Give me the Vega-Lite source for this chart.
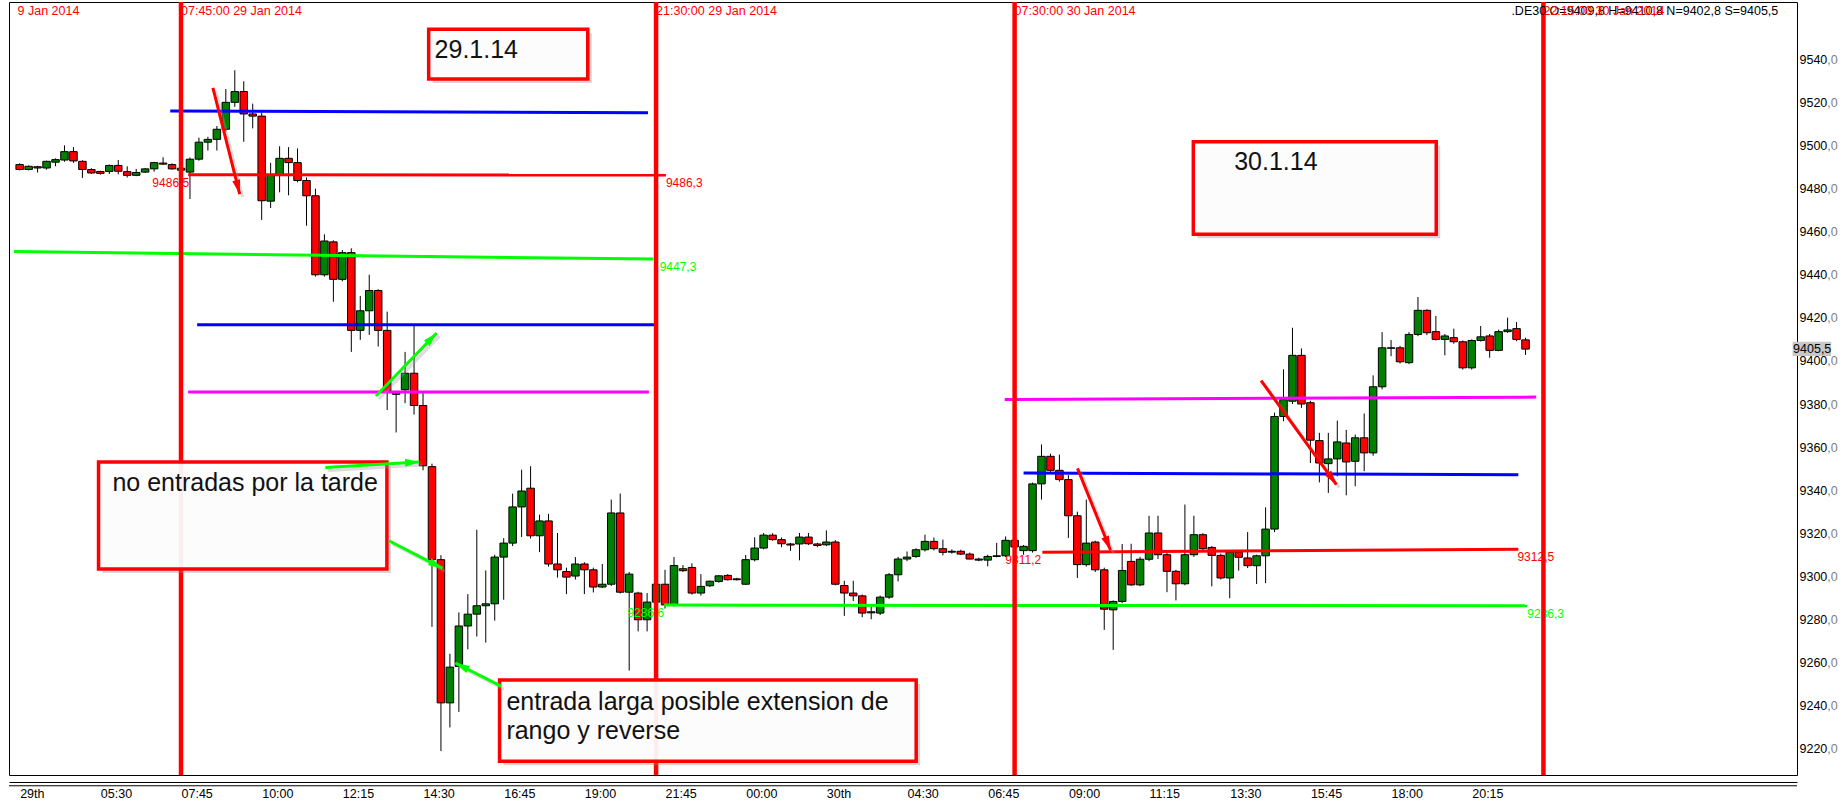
{
  "$schema": "https://vega.github.io/schema/vega-lite/v6.json",
  "width": 1788,
  "height": 773,
  "autosize": {"type": "none"},
  "padding": {"left": 9, "top": 2, "right": 45, "bottom": 28},
  "background": "white",
  "config": {
    "view": {"stroke": "black", "strokeWidth": 1},
    "font": "Liberation Sans",
    "axis": {"grid": false}
  },
  "resolve": {"axis": {"x": "independent", "y": "independent"}},
  "datasets": {
    "velas": [
      {"i":0,"o":9491.2,"h":9491.8,"l":9488.5,"c":9488.9},
      {"i":1,"o":9488.9,"h":9490.8,"l":9488.5,"c":9490.4},
      {"i":2,"o":9490.2,"h":9490.6,"l":9487.5,"c":9489.6},
      {"i":3,"o":9489.6,"h":9493.0,"l":9488.8,"c":9492.7},
      {"i":4,"o":9492.3,"h":9494.1,"l":9490.4,"c":9493.5},
      {"i":5,"o":9493.3,"h":9500.1,"l":9492.5,"c":9497.2},
      {"i":6,"o":9497.2,"h":9499.3,"l":9492.0,"c":9492.9},
      {"i":7,"o":9492.7,"h":9493.2,"l":9485.0,"c":9488.9},
      {"i":8,"o":9488.9,"h":9489.5,"l":9486.9,"c":9487.3},
      {"i":9,"o":9488.0,"h":9488.3,"l":9486.5,"c":9487.1},
      {"i":10,"o":9488.0,"h":9491.2,"l":9486.8,"c":9490.8},
      {"i":11,"o":9490.8,"h":9493.3,"l":9486.7,"c":9488.1},
      {"i":12,"o":9487.9,"h":9490.4,"l":9485.2,"c":9486.2},
      {"i":13,"o":9486.2,"h":9489.2,"l":9485.8,"c":9487.5},
      {"i":14,"o":9487.7,"h":9489.6,"l":9487.3,"c":9489.2},
      {"i":15,"o":9489.2,"h":9492.5,"l":9487.9,"c":9492.1},
      {"i":16,"o":9491.4,"h":9494.6,"l":9491.0,"c":9491.9},
      {"i":17,"o":9491.2,"h":9491.8,"l":9488.8,"c":9489.2},
      {"i":18,"o":9488.6,"h":9490.5,"l":9487.0,"c":9489.5},
      {"i":19,"o":9487.7,"h":9494.5,"l":9475.2,"c":9493.7},
      {"i":20,"o":9493.7,"h":9503.7,"l":9493.0,"c":9501.6},
      {"i":21,"o":9501.6,"h":9504.1,"l":9497.7,"c":9502.9},
      {"i":22,"o":9502.9,"h":9509.1,"l":9497.7,"c":9507.6},
      {"i":23,"o":9507.6,"h":9526.3,"l":9506.5,"c":9520.1},
      {"i":24,"o":9520.1,"h":9535.0,"l":9518.0,"c":9525.1},
      {"i":25,"o":9525.1,"h":9529.9,"l":9501.8,"c":9514.7},
      {"i":26,"o":9514.7,"h":9519.5,"l":9508.0,"c":9513.7},
      {"i":27,"o":9513.7,"h":9515.3,"l":9465.5,"c":9474.4},
      {"i":28,"o":9474.2,"h":9492.0,"l":9471.0,"c":9486.2},
      {"i":29,"o":9486.2,"h":9499.7,"l":9478.3,"c":9494.1},
      {"i":30,"o":9494.1,"h":9499.3,"l":9476.9,"c":9492.1},
      {"i":31,"o":9492.1,"h":9498.7,"l":9483.0,"c":9483.8},
      {"i":32,"o":9483.8,"h":9485.2,"l":9462.8,"c":9476.7},
      {"i":33,"o":9476.7,"h":9480.0,"l":9439.2,"c":9440.0},
      {"i":34,"o":9440.0,"h":9458.8,"l":9439.2,"c":9455.7},
      {"i":35,"o":9455.3,"h":9456.0,"l":9427.5,"c":9437.9},
      {"i":36,"o":9437.9,"h":9451.5,"l":9437.0,"c":9450.3},
      {"i":37,"o":9450.3,"h":9452.3,"l":9404.2,"c":9414.2},
      {"i":38,"o":9414.2,"h":9430.2,"l":9409.8,"c":9423.3},
      {"i":39,"o":9423.3,"h":9440.0,"l":9412.1,"c":9432.7},
      {"i":40,"o":9432.7,"h":9433.3,"l":9406.7,"c":9414.2},
      {"i":41,"o":9414.2,"h":9422.9,"l":9377.2,"c":9385.5},
      {"i":42,"o":9384.5,"h":9386.0,"l":9366.8,"c":9385.5},
      {"i":43,"o":9386.6,"h":9404.2,"l":9380.4,"c":9394.3},
      {"i":44,"o":9394.3,"h":9416.3,"l":9375.1,"c":9379.3},
      {"i":45,"o":9379.3,"h":9386.0,"l":9349.2,"c":9351.3},
      {"i":46,"o":9350.9,"h":9352.3,"l":9276.5,"c":9307.7},
      {"i":47,"o":9307.7,"h":9309.8,"l":9218.8,"c":9241.2},
      {"i":48,"o":9241.2,"h":9264.0,"l":9229.8,"c":9257.8},
      {"i":49,"o":9258.1,"h":9283.2,"l":9237.0,"c":9276.9},
      {"i":50,"o":9276.9,"h":9291.7,"l":9266.1,"c":9282.4},
      {"i":51,"o":9282.4,"h":9321.6,"l":9272.0,"c":9286.3},
      {"i":52,"o":9286.3,"h":9302.7,"l":9269.2,"c":9287.2},
      {"i":53,"o":9287.2,"h":9310.0,"l":9279.4,"c":9308.9},
      {"i":54,"o":9308.9,"h":9317.7,"l":9289.1,"c":9315.4},
      {"i":55,"o":9315.4,"h":9338.4,"l":9314.0,"c":9332.2},
      {"i":56,"o":9332.2,"h":9349.5,"l":9318.2,"c":9339.6},
      {"i":57,"o":9340.9,"h":9351.1,"l":9317.5,"c":9318.8},
      {"i":58,"o":9318.8,"h":9328.6,"l":9311.2,"c":9325.7},
      {"i":59,"o":9325.7,"h":9329.0,"l":9304.5,"c":9305.7},
      {"i":60,"o":9305.7,"h":9320.1,"l":9299.4,"c":9303.0},
      {"i":61,"o":9302.2,"h":9304.0,"l":9291.7,"c":9299.6},
      {"i":62,"o":9300.1,"h":9308.9,"l":9298.5,"c":9305.7},
      {"i":63,"o":9305.7,"h":9306.5,"l":9291.7,"c":9303.0},
      {"i":64,"o":9303.0,"h":9304.0,"l":9292.5,"c":9295.0},
      {"i":65,"o":9295.0,"h":9305.7,"l":9294.5,"c":9296.3},
      {"i":66,"o":9296.3,"h":9335.6,"l":9295.5,"c":9329.4},
      {"i":67,"o":9329.4,"h":9338.4,"l":9292.0,"c":9292.6},
      {"i":68,"o":9292.6,"h":9302.0,"l":9256.2,"c":9301.0},
      {"i":69,"o":9292.2,"h":9292.8,"l":9274.4,"c":9279.8},
      {"i":70,"o":9279.8,"h":9292.2,"l":9274.4,"c":9288.0},
      {"i":71,"o":9288.0,"h":9298.0,"l":9285.0,"c":9296.3},
      {"i":72,"o":9296.3,"h":9303.0,"l":9285.0,"c":9286.7},
      {"i":73,"o":9286.7,"h":9308.9,"l":9286.0,"c":9305.0},
      {"i":74,"o":9303.5,"h":9305.2,"l":9302.0,"c":9302.6},
      {"i":75,"o":9304.1,"h":9306.0,"l":9291.5,"c":9292.2},
      {"i":76,"o":9292.2,"h":9301.0,"l":9291.0,"c":9295.3},
      {"i":77,"o":9295.6,"h":9298.0,"l":9295.0,"c":9297.7},
      {"i":78,"o":9297.6,"h":9300.5,"l":9297.0,"c":9300.2},
      {"i":79,"o":9300.4,"h":9301.0,"l":9298.0,"c":9298.4},
      {"i":80,"o":9298.8,"h":9299.3,"l":9298.0,"c":9298.4},
      {"i":81,"o":9296.3,"h":9309.9,"l":9296.0,"c":9307.7},
      {"i":82,"o":9307.7,"h":9318.1,"l":9306.9,"c":9313.1},
      {"i":83,"o":9313.1,"h":9320.1,"l":9312.5,"c":9319.1},
      {"i":84,"o":9319.1,"h":9320.0,"l":9316.5,"c":9317.0},
      {"i":85,"o":9317.0,"h":9318.0,"l":9313.5,"c":9315.1},
      {"i":86,"o":9315.0,"h":9315.5,"l":9311.8,"c":9314.5},
      {"i":87,"o":9315.0,"h":9320.1,"l":9307.4,"c":9318.2},
      {"i":88,"o":9318.2,"h":9320.1,"l":9314.5,"c":9315.1},
      {"i":89,"o":9315.0,"h":9315.5,"l":9313.5,"c":9314.3},
      {"i":90,"o":9314.6,"h":9321.3,"l":9314.0,"c":9315.9},
      {"i":91,"o":9315.9,"h":9316.8,"l":9295.8,"c":9296.3},
      {"i":92,"o":9295.7,"h":9297.9,"l":9281.6,"c":9292.2},
      {"i":93,"o":9292.2,"h":9297.9,"l":9288.5,"c":9290.9},
      {"i":94,"o":9290.9,"h":9291.5,"l":9281.0,"c":9282.9},
      {"i":95,"o":9283.0,"h":9286.0,"l":9280.0,"c":9283.5},
      {"i":96,"o":9282.9,"h":9291.0,"l":9282.0,"c":9290.3},
      {"i":97,"o":9290.3,"h":9301.5,"l":9289.5,"c":9300.7},
      {"i":98,"o":9300.7,"h":9309.0,"l":9297.6,"c":9308.0},
      {"i":99,"o":9308.0,"h":9311.5,"l":9307.0,"c":9308.9},
      {"i":100,"o":9309.2,"h":9313.0,"l":9308.5,"c":9312.3},
      {"i":101,"o":9312.3,"h":9319.3,"l":9311.5,"c":9316.2},
      {"i":102,"o":9316.2,"h":9318.0,"l":9312.0,"c":9312.8},
      {"i":103,"o":9312.8,"h":9317.0,"l":9309.7,"c":9311.1},
      {"i":104,"o":9311.2,"h":9312.5,"l":9310.5,"c":9311.6},
      {"i":105,"o":9311.6,"h":9312.3,"l":9309.8,"c":9310.3},
      {"i":106,"o":9310.3,"h":9311.0,"l":9307.8,"c":9308.0},
      {"i":107,"o":9308.0,"h":9308.6,"l":9307.0,"c":9307.5},
      {"i":108,"o":9307.5,"h":9310.0,"l":9304.6,"c":9309.2},
      {"i":109,"o":9309.2,"h":9315.5,"l":9308.8,"c":9309.5},
      {"i":110,"o":9309.5,"h":9318.5,"l":9309.0,"c":9316.7},
      {"i":111,"o":9316.7,"h":9317.5,"l":9312.5,"c":9313.6},
      {"i":112,"o":9311.9,"h":9314.5,"l":9310.0,"c":9313.9},
      {"i":113,"o":9311.9,"h":9343.5,"l":9311.0,"c":9342.9},
      {"i":114,"o":9342.9,"h":9361.2,"l":9335.6,"c":9355.7},
      {"i":115,"o":9355.7,"h":9356.9,"l":9348.5,"c":9349.2},
      {"i":116,"o":9349.2,"h":9356.5,"l":9344.0,"c":9344.9},
      {"i":117,"o":9344.9,"h":9347.0,"l":9317.8,"c":9328.1},
      {"i":118,"o":9328.1,"h":9330.0,"l":9299.2,"c":9305.4},
      {"i":119,"o":9305.4,"h":9335.6,"l":9304.5,"c":9315.4},
      {"i":120,"o":9315.9,"h":9316.5,"l":9302.0,"c":9303.0},
      {"i":121,"o":9303.0,"h":9304.0,"l":9275.1,"c":9284.7},
      {"i":122,"o":9284.4,"h":9288.8,"l":9265.8,"c":9288.3},
      {"i":123,"o":9288.3,"h":9315.0,"l":9287.5,"c":9302.7},
      {"i":124,"o":9306.9,"h":9315.1,"l":9295.5,"c":9296.0},
      {"i":125,"o":9296.0,"h":9309.0,"l":9295.4,"c":9307.9},
      {"i":126,"o":9307.9,"h":9328.1,"l":9307.0,"c":9320.1},
      {"i":127,"o":9320.1,"h":9328.1,"l":9308.0,"c":9310.0},
      {"i":128,"o":9310.0,"h":9311.0,"l":9292.6,"c":9302.3},
      {"i":129,"o":9302.3,"h":9303.0,"l":9288.8,"c":9296.5},
      {"i":130,"o":9296.5,"h":9333.3,"l":9295.8,"c":9310.0},
      {"i":131,"o":9310.0,"h":9328.1,"l":9309.0,"c":9319.3},
      {"i":132,"o":9319.3,"h":9320.0,"l":9311.5,"c":9312.8},
      {"i":133,"o":9313.4,"h":9314.0,"l":9295.3,"c":9309.7},
      {"i":134,"o":9309.7,"h":9310.5,"l":9298.5,"c":9299.2},
      {"i":135,"o":9299.2,"h":9312.0,"l":9289.8,"c":9311.2},
      {"i":136,"o":9311.2,"h":9312.0,"l":9302.6,"c":9308.8},
      {"i":137,"o":9308.5,"h":9320.5,"l":9303.8,"c":9304.9},
      {"i":138,"o":9304.9,"h":9310.0,"l":9296.4,"c":9309.5},
      {"i":139,"o":9309.5,"h":9332.0,"l":9296.8,"c":9321.9},
      {"i":140,"o":9321.9,"h":9376.0,"l":9320.5,"c":9374.2},
      {"i":141,"o":9374.2,"h":9396.1,"l":9372.0,"c":9382.0},
      {"i":142,"o":9381.3,"h":9415.4,"l":9380.0,"c":9402.6},
      {"i":143,"o":9402.6,"h":9405.8,"l":9378.2,"c":9380.0},
      {"i":144,"o":9380.6,"h":9381.5,"l":9352.6,"c":9363.2},
      {"i":145,"o":9363.0,"h":9366.6,"l":9343.6,"c":9352.6},
      {"i":146,"o":9352.3,"h":9366.6,"l":9338.7,"c":9354.5},
      {"i":147,"o":9354.5,"h":9372.3,"l":9346.4,"c":9362.4},
      {"i":148,"o":9361.9,"h":9368.0,"l":9337.6,"c":9353.1},
      {"i":149,"o":9353.4,"h":9365.8,"l":9341.8,"c":9364.3},
      {"i":150,"o":9364.3,"h":9375.6,"l":9348.8,"c":9357.3},
      {"i":151,"o":9357.3,"h":9393.3,"l":9356.0,"c":9388.0},
      {"i":152,"o":9388.0,"h":9413.4,"l":9386.8,"c":9406.1},
      {"i":153,"o":9405.9,"h":9409.7,"l":9402.2,"c":9406.1},
      {"i":154,"o":9406.1,"h":9407.0,"l":9398.8,"c":9399.6},
      {"i":155,"o":9399.2,"h":9413.4,"l":9398.5,"c":9412.3},
      {"i":156,"o":9412.3,"h":9429.7,"l":9411.5,"c":9423.5},
      {"i":157,"o":9423.5,"h":9424.0,"l":9412.0,"c":9413.1},
      {"i":158,"o":9413.6,"h":9420.9,"l":9409.5,"c":9410.0},
      {"i":159,"o":9410.0,"h":9412.5,"l":9402.6,"c":9411.6},
      {"i":160,"o":9410.8,"h":9415.0,"l":9408.0,"c":9408.9},
      {"i":161,"o":9408.9,"h":9409.5,"l":9396.0,"c":9396.8},
      {"i":162,"o":9396.8,"h":9410.0,"l":9396.0,"c":9409.5},
      {"i":163,"o":9409.5,"h":9416.2,"l":9409.0,"c":9411.2},
      {"i":164,"o":9411.6,"h":9412.5,"l":9401.5,"c":9404.9},
      {"i":165,"o":9404.9,"h":9414.5,"l":9404.5,"c":9413.6},
      {"i":166,"o":9413.6,"h":9420.1,"l":9413.0,"c":9414.4},
      {"i":167,"o":9415.0,"h":9418.1,"l":9409.2,"c":9410.0},
      {"i":168,"o":9409.8,"h":9410.8,"l":9402.8,"c":9405.5}
    ],
    "niveles": [
      {"linea":"azul","i1":16.8,"i2":70.1,"v1":9516.1,"v2":9515.3},
      {"linea":"roja","i1":18.8,"i2":72.1,"v1":9486.5,"v2":9486.3},
      {"linea":"verde","i1":-0.63,"i2":70.7,"v1":9450.8,"v2":9447.3},
      {"linea":"azul","i1":19.8,"i2":70.8,"v1":9416.8,"v2":9416.8},
      {"linea":"magenta","i1":18.8,"i2":70.2,"v1":9385.6,"v2":9385.6},
      {"linea":"verde","i1":71.9,"i2":168.2,"v1":9286.6,"v2":9286.3},
      {"linea":"roja","i1":114.1,"i2":167.2,"v1":9311.2,"v2":9312.5},
      {"linea":"azul","i1":112.0,"i2":167.2,"v1":9348.0,"v2":9347.1},
      {"linea":"magenta","i1":109.9,"i2":169.2,"v1":9382.1,"v2":9383.2}
    ],
    "valoresNivel": [
      {"linea":"roja","i":18.9,"v":9486.5,"txt":"9486,5","lado":"izq"},
      {"linea":"roja","i":72.1,"v":9486.3,"txt":"9486,3","lado":"der"},
      {"linea":"verde","i":71.4,"v":9447.3,"txt":"9447,3","lado":"der"},
      {"linea":"verde","i":71.9,"v":9286.6,"txt":"9286,6","lado":"izq"},
      {"linea":"roja","i":113.96,"v":9311.2,"txt":"9311,2","lado":"izq"},
      {"linea":"roja","i":167.1,"v":9312.5,"txt":"9312,5","lado":"der"},
      {"linea":"verde","i":168.2,"v":9286.3,"txt":"9286,3","lado":"der"}
    ],
    "cortes": [
      {"i":18,"txt":"07:45:00 29 Jan 2014"},
      {"i":71,"txt":"21:30:00 29 Jan 2014"},
      {"i":111,"txt":"07:30:00 30 Jan 2014"},
      {"i":170,"txt":"22:15:00 30 Jan 2014"}
    ],
    "flechas": [
      {"linea":"roja","i1":21.56,"v1":9526.8,"i2":24.55,"v2":9477.5},
      {"linea":"verde","i1":39.75,"v1":9383.7,"i2":46.52,"v2":9413.0},
      {"linea":"verde","i1":34.1,"v1":9350.5,"i2":44.6,"v2":9353.1},
      {"linea":"verde","i1":41.19,"v1":9316.5,"i2":47.18,"v2":9303.7},
      {"linea":"verde","i1":53.7,"v1":9249.0,"i2":48.6,"v2":9259.7},
      {"linea":"roja","i1":118.02,"v1":9350.1,"i2":121.7,"v2":9312.1},
      {"linea":"roja","i1":138.5,"v1":9390.9,"i2":146.9,"v2":9342.6}
    ],
    "cajas": [
      {"i1":45.63,"i2":63.38,"v1":9554.0,"v2":9530.9},
      {"i1":130.94,"i2":158.04,"v1":9501.8,"v2":9458.8},
      {"i1":8.8,"i2":40.97,"v1":9353.1,"v2":9303.4},
      {"i1":53.54,"i2":100.02,"v1":9251.8,"v2":9214.1}
    ],
    "notas": [
      {"i":46.29,"v":9544.4,"txt":"29.1.14"},
      {"i":135.5,"v":9492.5,"txt":"30.1.14"},
      {"i":10.35,"v":9343.3,"txt":"no entradas por la tarde"},
      {"i":54.3,"v":9241.7,"txt":"entrada larga posible extension de"},
      {"i":54.3,"v":9228.2,"txt":"rango y reverse"}
    ]
  },
  "layer": [
    {
      "data": {"name": "velas"},
      "mark": {"type": "rule", "color": "black", "strokeWidth": 1},
      "encoding": {
        "x": {
          "field": "i", "type": "quantitative", "title": null,
          "scale": {"domain": [-0.632, 197.73], "nice": false, "zero": false},
          "axis": {
            "orient": "bottom", "offset": 7, "domain": true, "domainColor": "black", "domainWidth": 1,
            "ticks": false, "labelAlign": "left", "labelBaseline": "top", "labelPadding": 5,
            "labelFontSize": 12.5, "labelColor": "black", "labelFont": "Liberation Sans",
            "labelOverlap": false, "labelFlush": false,
            "values": [0, 9, 18, 27, 36, 45, 54, 63, 72, 81, 90, 99, 108, 117, 126, 135, 144, 153, 162],
            "labelExpr": "['29th','05:30','07:45','10:00','12:15','14:30','16:45','19:00','21:45','00:00','30th','04:30','06:45','09:00','11:15','13:30','15:45','18:00','20:15'][round(datum.value / 9)]"
          }
        },
        "y": {
          "field": "l", "type": "quantitative", "title": null,
          "scale": {"domain": [9207.7, 9566.7], "nice": false, "zero": false},
          "axis": {
            "orient": "right", "domain": false, "ticks": false, "labelPadding": 2,
            "labelAlign": "left", "labelFontSize": 12.5, "labelColor": "black", "labelFont": "Liberation Sans",
            "labelOverlap": false, "labelFlush": false,
            "values": [9220, 9240, 9260, 9280, 9300, 9320, 9340, 9360, 9380, 9400, 9420, 9440, 9460, 9480, 9500, 9520, 9540],
            "labelExpr": "format(datum.value, 'd')"
          }
        },
        "y2": {"field": "h"}
      }
    },
    {
      "data": {"name": "velas"},
      "mark": {"type": "bar", "size": 7.5, "stroke": "black", "strokeWidth": 1},
      "encoding": {
        "x": {"field": "i", "type": "quantitative", "axis": null},
        "y": {"field": "o", "type": "quantitative", "axis": null},
        "y2": {"field": "c"},
        "fill": {"condition": {"test": "datum.c >= datum.o", "value": "#008000"}, "value": "#ff0000"}
      }
    },
    {
      "data": {"name": "niveles"},
      "mark": {"type": "rule", "strokeWidth": 3},
      "encoding": {
        "x": {"field": "i1", "type": "quantitative", "axis": null},
        "x2": {"field": "i2"},
        "y": {"field": "v1", "type": "quantitative", "axis": null},
        "y2": {"field": "v2"},
        "color": {"field": "linea", "type": "nominal", "legend": null,
          "scale": {"domain": ["azul", "roja", "verde", "magenta"], "range": ["#0000ff", "#ff0000", "#00ff00", "#ff00ff"]}}
      }
    },
    {
      "data": {"name": "valoresNivel"},
      "mark": {"type": "text", "fontSize": 12, "baseline": "middle", "dy": 8,
        "align": {"expr": "datum.lado == 'izq' ? 'right' : 'left'"}},
      "encoding": {
        "x": {"field": "i", "type": "quantitative", "axis": null},
        "y": {"field": "v", "type": "quantitative", "axis": null},
        "text": {"field": "txt"},
        "color": {"field": "linea", "type": "nominal", "legend": null}
      }
    },
    {
      "data": {"name": "cortes"},
      "mark": {"type": "rule", "color": "#ff0000", "strokeWidth": 4.5},
      "encoding": {
        "x": {"field": "i", "type": "quantitative", "axis": null}
      }
    },
    {
      "data": {"values": [{"i": 196.2, "txt": ".DE30 O=9409,8 H=9410,8 N=9402,8 S=9405,5"}]},
      "mark": {"type": "text", "fontSize": 12.5, "align": "right", "baseline": "middle", "color": "black"},
      "encoding": {
        "x": {"field": "i", "type": "quantitative", "axis": null},
        "y": {"datum": 9562.5, "axis": null},
        "text": {"field": "txt"}
      }
    },
    {
      "data": {"name": "cortes"},
      "mark": {"type": "text", "fontSize": 12.5, "align": "left", "baseline": "middle", "color": "#ff0000"},
      "encoding": {
        "x": {"field": "i", "type": "quantitative", "axis": null},
        "y": {"datum": 9562.5, "axis": null},
        "text": {"field": "txt"}
      }
    },
    {
      "data": {"values": [{"i": -0.24, "txt": "9 Jan 2014"}]},
      "mark": {"type": "text", "fontSize": 12.5, "align": "left", "baseline": "middle", "color": "#ff0000"},
      "encoding": {
        "x": {"field": "i", "type": "quantitative", "axis": null},
        "y": {"datum": 9562.5, "axis": null},
        "text": {"field": "txt"}
      }
    },
    {
      "data": {"name": "cajas"},
      "mark": {"type": "rect", "fill": "#8a8a8a", "opacity": 0.35, "xOffset": 4, "x2Offset": 4, "yOffset": 4, "y2Offset": 4},
      "encoding": {
        "x": {"field": "i1", "type": "quantitative", "axis": null},
        "x2": {"field": "i2"},
        "y": {"field": "v1", "type": "quantitative", "axis": null},
        "y2": {"field": "v2"}
      }
    },
    {
      "data": {"name": "cajas"},
      "mark": {"type": "rect", "fill": "white", "fillOpacity": 0.92, "stroke": "#ff0000", "strokeWidth": 3.5},
      "encoding": {
        "x": {"field": "i1", "type": "quantitative", "axis": null},
        "x2": {"field": "i2"},
        "y": {"field": "v1", "type": "quantitative", "axis": null},
        "y2": {"field": "v2"}
      }
    },
    {
      "data": {"name": "notas"},
      "mark": {"type": "text", "fontSize": 25, "align": "left", "baseline": "middle", "color": "#111111", "font": "Liberation Sans"},
      "encoding": {
        "x": {"field": "i", "type": "quantitative", "axis": null},
        "y": {"field": "v", "type": "quantitative", "axis": null},
        "text": {"field": "txt"}
      }
    },
    {
      "data": {"name": "flechas"},
      "mark": {"type": "rule", "strokeWidth": 3, "color": "#9a9a9a", "opacity": 0.35, "xOffset": 3, "x2Offset": 3, "yOffset": 3, "y2Offset": 3},
      "encoding": {
        "x": {"field": "i1", "type": "quantitative", "axis": null},
        "x2": {"field": "i2"},
        "y": {"field": "v1", "type": "quantitative", "axis": null},
        "y2": {"field": "v2"}
      }
    },
    {
      "data": {"name": "flechas"},
      "mark": {"type": "rule", "strokeWidth": 3},
      "encoding": {
        "x": {"field": "i1", "type": "quantitative", "axis": null},
        "x2": {"field": "i2"},
        "y": {"field": "v1", "type": "quantitative", "axis": null},
        "y2": {"field": "v2"},
        "color": {"field": "linea", "type": "nominal", "legend": null}
      }
    },
    {
      "data": {"name": "flechas"},
      "mark": {"type": "point", "filled": true, "opacity": 1, "size": 320,
        "shape": "M0,0L0.45,1.6L-0.45,1.6Z",
        "angle": {"expr": "atan2(scale('x', datum.i2) - scale('x', datum.i1), scale('y', datum.v1) - scale('y', datum.v2)) * 180 / PI"}},
      "encoding": {
        "x": {"field": "i2", "type": "quantitative", "axis": null},
        "y": {"field": "v2", "type": "quantitative", "axis": null},
        "color": {"field": "linea", "type": "nominal", "legend": null}
      }
    },
    {
      "data": {"values": [{"i1": 197.8, "i2": 202.1, "v1": 9402.3, "v2": 9408.9}]},
      "mark": {"type": "rect", "fill": "#c8c8c8"},
      "encoding": {
        "x": {"field": "i1", "type": "quantitative", "axis": null},
        "x2": {"field": "i2"},
        "y": {"field": "v1", "type": "quantitative", "axis": null},
        "y2": {"field": "v2"}
      }
    },
    {
      "data": {"values": [{"i": 197.85, "v": 9405.5, "txt": "9405,5"}]},
      "mark": {"type": "text", "fontSize": 12.5, "align": "left", "baseline": "middle", "color": "black"},
      "encoding": {
        "x": {"field": "i", "type": "quantitative", "axis": null},
        "y": {"field": "v", "type": "quantitative", "axis": null},
        "text": {"field": "txt"}
      }
    },
    {
      "data": {"values": [{}]},
      "mark": {"type": "rule", "color": "black", "strokeWidth": 1},
      "encoding": {
        "y": {
          "datum": 9202.7,
          "axis": {
            "orient": "right", "domain": false, "ticks": false, "labelPadding": 29.8,
            "labelAlign": "left", "labelFontSize": 12.5, "labelColor": "#808080", "labelFont": "Liberation Sans",
            "labelOverlap": false, "labelFlush": false, "title": null,
            "values": [9220, 9240, 9260, 9280, 9300, 9320, 9340, 9360, 9380, 9400, 9420, 9440, 9460, 9480, 9500, 9520, 9540],
            "labelExpr": "',0'"
          }
        }
      }
    }
  ]
}
